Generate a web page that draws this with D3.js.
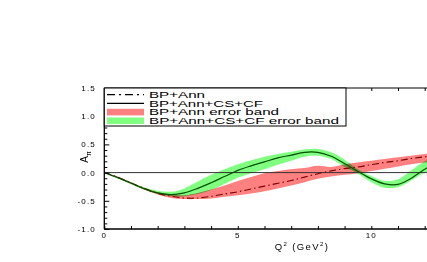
<!DOCTYPE html>
<meta charset="utf-8">
<style>
  body { margin: 0; background: #fff; }
  svg { display: block; font-family: "Liberation Sans", Arial, sans-serif; }
  .band { mix-blend-mode: multiply; }
</style>
<body>
<div id="chart"></div>
<script src="https://cdn.jsdelivr.net/npm/d3@7"></script>
<script>
  // Q^2 sample points (GeV^2)
  const q2 = [0, 0.5, 1, 1.5, 2, 2.5, 3, 3.5, 4, 4.5, 5, 5.5, 6, 6.5, 7, 7.5, 8, 8.5, 9, 9.5, 10, 10.5, 11, 11.5, 12, 12.5];

  // BP+Ann (dash-dot) and its error band
  const bpAnn   = [0, -0.08, -0.18, -0.28, -0.37, -0.42, -0.45, -0.45, -0.42, -0.38, -0.34, -0.29, -0.24, -0.19, -0.14, -0.08, -0.02, 0.03, 0.07, 0.10, 0.14, 0.18, 0.21, 0.25, 0.28, 0.31];
  const bpAnnLo = [0, -0.09, -0.19, -0.30, -0.39, -0.45, -0.47, -0.47, -0.46, -0.43, -0.40, -0.37, -0.33, -0.28, -0.23, -0.17, -0.11, -0.07, -0.04, -0.01, 0.03, 0.07, 0.11, 0.15, 0.18, 0.21];
  const bpAnnHi = [0, -0.07, -0.17, -0.27, -0.35, -0.39, -0.40, -0.36, -0.30, -0.23, -0.15, -0.08, -0.01, 0.03, 0.06, 0.08, 0.12, 0.10, 0.15, 0.18, 0.21, 0.24, 0.27, 0.30, 0.33, 0.36];

  // BP+Ann+CS+CF (solid) and its error band
  const full   = [0, -0.09, -0.19, -0.29, -0.36, -0.39, -0.36, -0.28, -0.18, -0.07, 0.04, 0.12, 0.19, 0.26, 0.31, 0.36, 0.36, 0.29, 0.16, 0.02, -0.11, -0.20, -0.21, -0.10, 0.06, 0.18];
  const fullLo = [0, -0.10, -0.20, -0.30, -0.38, -0.42, -0.42, -0.38, -0.31, -0.20, -0.09, -0.01, 0.06, 0.14, 0.21, 0.28, 0.30, 0.24, 0.10, -0.02, -0.17, -0.27, -0.26, -0.14, 0.00, 0.10];
  const fullHi = [0, -0.08, -0.17, -0.26, -0.32, -0.34, -0.28, -0.16, -0.04, 0.06, 0.15, 0.22, 0.28, 0.33, 0.37, 0.41, 0.42, 0.36, 0.23, 0.06, -0.06, -0.15, -0.12, 0.04, 0.20, 0.30];

  const xTicks = [0, 5, 10];
  const yTicks = [-1.0, -0.5, 0.0, 0.5, 1.0, 1.5];

  const legendItems = [
    { label: "BP+Ann", kind: "dashdot", len: 56 },
    { label: "BP+Ann+CS+CF", kind: "solid", len: 114 },
    { label: "BP+Ann error band", kind: "red", len: 130 },
    { label: "BP+Ann+CS+CF error band", kind: "green", len: 190 }
  ];

  const W = 427, H = 262;
  const pLeft = 104.3, pTop = 88, pBottom = 229;
  const unit = 26.7;

  const svg = d3.select("#chart").append("svg")
    .attr("width", W).attr("height", H);

  const x = d3.scaleLinear().domain([0, 13]).range([pLeft, pLeft + 13 * unit]);
  const y = d3.scaleLinear().domain([-1, 1.5]).range([pBottom, pTop]);

  svg.append("clipPath").attr("id", "plot")
    .append("rect").attr("x", pLeft).attr("y", pTop)
    .attr("width", W - pLeft).attr("height", pBottom - pTop);

  const plot = svg.append("g").attr("clip-path", "url(#plot)");

  const rows = q2.map((q, i) => ({
    q, a: bpAnn[i], aLo: bpAnnLo[i], aHi: bpAnnHi[i],
    f: full[i], fLo: fullLo[i], fHi: fullHi[i]
  }));

  const curve = d3.curveCatmullRom;
  const area = (lo, hi) => d3.area().curve(curve)
    .x(d => x(d.q)).y0(d => y(d[lo])).y1(d => y(d[hi]));
  const line = key => d3.line().curve(curve)
    .x(d => x(d.q)).y(d => y(d[key]));

  plot.append("path").attr("class", "band")
    .attr("d", area("aLo", "aHi")(rows)).attr("fill", "#ff8080");
  plot.append("path").attr("class", "band")
    .attr("d", area("fLo", "fHi")(rows)).attr("fill", "#80ff80");

  // zero line
  plot.append("line")
    .attr("x1", pLeft).attr("x2", W).attr("y1", y(0)).attr("y2", y(0))
    .attr("stroke", "#333").attr("stroke-width", 1);

  plot.append("path").attr("d", line("a")(rows))
    .attr("fill", "none").attr("stroke", "#7a0000").attr("stroke-width", 1.1)
    .attr("stroke-dasharray", "7,3,1.5,3");
  plot.append("path").attr("d", line("f")(rows))
    .attr("fill", "none").attr("stroke", "#005000").attr("stroke-width", 1.2);

  // axes
  const yAxis = d3.axisRight(y)
    .tickValues(d3.range(-1, 1.501, 0.1))
    .tickSize(3).tickFormat("");
  svg.append("g").attr("transform", `translate(${pLeft},0)`).call(yAxis)
    .call(g => g.select(".domain").remove())
    .selectAll(".tick line").attr("stroke", "#000")
    .attr("x2", d => Math.abs(d * 2 - Math.round(d * 2)) < 1e-6 ? 5 : 3);

  const xAxisB = d3.axisTop(x).tickValues(d3.range(0, 14, 1)).tickSize(3).tickFormat("");
  svg.append("g").attr("transform", `translate(0,${pBottom})`).call(xAxisB)
    .call(g => g.select(".domain").remove())
    .selectAll(".tick line").attr("stroke", "#000");
  const xAxisT = d3.axisBottom(x).tickValues(d3.range(0, 14, 1)).tickSize(3).tickFormat("");
  svg.append("g").attr("transform", `translate(0,${pTop})`).call(xAxisT)
    .call(g => g.select(".domain").remove())
    .selectAll(".tick line").attr("stroke", "#000");

  svg.append("line").attr("x1", pLeft).attr("x2", pLeft).attr("y1", pTop).attr("y2", pBottom)
    .attr("stroke", "#000").attr("stroke-width", 1.3);
  svg.append("line").attr("x1", pLeft).attr("x2", W).attr("y1", pBottom).attr("y2", pBottom)
    .attr("stroke", "#000").attr("stroke-width", 1.3);
  svg.append("line").attr("x1", pLeft).attr("x2", W).attr("y1", pTop).attr("y2", pTop)
    .attr("stroke", "#000").attr("stroke-width", 1);

  svg.append("g").selectAll("text").data(yTicks).join("text")
    .attr("x", 96).attr("y", d => y(d) + 3)
    .attr("text-anchor", "end").attr("font-size", 8).attr("letter-spacing", 1.2)
    .attr("fill", "#000")
    .text(d => d.toFixed(1));

  svg.append("g").selectAll("text").data(xTicks).join("text")
    .attr("x", d => x(d)).attr("y", 238)
    .attr("text-anchor", "middle").attr("font-size", 8).attr("letter-spacing", 1.2)
    .attr("fill", "#000")
    .text(d => d);

  // axis titles
  const xl = svg.append("text").attr("x", 302).attr("y", 250)
    .attr("text-anchor", "middle").attr("font-size", 9.5).attr("letter-spacing", 1.4);
  xl.append("tspan").text("Q");
  xl.append("tspan").attr("font-size", 6).attr("dy", -4).text("2");
  xl.append("tspan").attr("dy", 4).text(" (GeV");
  xl.append("tspan").attr("font-size", 6).attr("dy", -4).text("2");
  xl.append("tspan").attr("dy", 4).text(")");

  const yl = svg.append("text").attr("transform", "translate(88,157) rotate(-90)")
    .attr("text-anchor", "middle").attr("font-size", 10);
  yl.append("tspan").text("A");
  yl.append("tspan").attr("font-size", 7).attr("dy", 3).text("π");

  // legend
  const lg = svg.append("g");
  lg.append("rect").attr("x", pLeft).attr("y", pTop).attr("width", 346 - pLeft).attr("height", 126 - pTop)
    .attr("fill", "#fff").attr("stroke", "#000").attr("stroke-width", 1);
  const rowY = [94.6, 103.4, 112.1, 120.8];
  legendItems.forEach((it, i) => {
    const cy = rowY[i];
    if (it.kind === "dashdot" || it.kind === "solid") {
      lg.append("line").attr("x1", 107).attr("x2", 144).attr("y1", cy).attr("y2", cy)
        .attr("stroke", "#000").attr("stroke-width", 1.2)
        .attr("stroke-dasharray", it.kind === "dashdot" ? "8,4,2,4" : null);
    } else {
      lg.append("rect").attr("x", 107).attr("y", cy - 3.3).attr("width", 37).attr("height", 6.6)
        .attr("fill", it.kind === "red" ? "#ff8080" : "#80ff80");
    }
    lg.append("text").attr("x", 149).attr("y", cy + 3.1)
      .attr("font-size", 8.3).attr("textLength", it.len).attr("lengthAdjust", "spacingAndGlyphs")
      .text(it.label);
  });
</script>
</body>
